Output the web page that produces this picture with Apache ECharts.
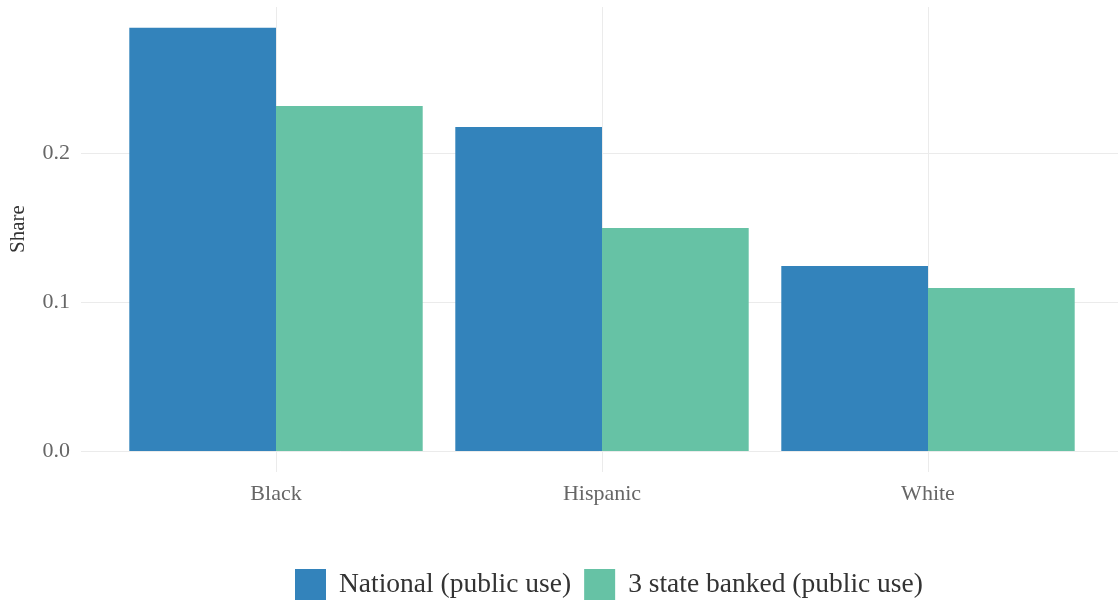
<!DOCTYPE html>
<html><head><meta charset="utf-8">
<script src="https://cdn.jsdelivr.net/npm/echarts@6/dist/echarts.min.js"></script>
<style>html,body{margin:0;padding:0;background:#fff}#c{width:1118px;height:605px}</style>
</head><body><div id="c"></div>
<script>
const categories = ['Black', 'Hispanic', 'White'];
const seriesNames = ['National (public use)', '3 state banked (public use)'];
const national = [0.284, 0.2175, 0.1242];
const threeState = [0.2315, 0.1497, 0.1094];
const yTicks = [0, 0.1, 0.2];

const FONT = '"Liberation Serif", "DejaVu Serif", serif';
const chart = echarts.init(document.getElementById('c'));
const yMax = 0.298;
chart.setOption({
  backgroundColor: '#ffffff',
  animation: false,
  textStyle: { fontFamily: FONT },
  legend: {
    bottom: 0, left: 290, itemWidth: 31, itemHeight: 31, itemGap: 13,
    icon: 'rect',
    textStyle: { fontFamily: FONT, fontSize: 27.5, color: '#333', padding: [0, 0, 0, 8] },
    data: seriesNames
  },
  grid: [
    { left: 113, width: 978, top: 7, bottom: 154 },
    { left: 80, right: 0, top: 7, bottom: 154 },
    { left: 276, width: 652, top: 7, bottom: 133 }
  ],
  xAxis: [
    { type: 'category', gridIndex: 0, data: categories, axisLine: { show: false }, axisTick: { show: false }, axisLabel: { show: false }, splitLine: { show: false } },
    { type: 'value', gridIndex: 1, min: 0, max: 1, show: false },
    { type: 'category', gridIndex: 2, data: categories, boundaryGap: false,
      axisLine: { show: false }, axisTick: { show: false },
      axisLabel: { color: '#666', fontSize: 22, fontFamily: FONT, margin: 11 },
      splitLine: { show: true, lineStyle: { color: '#ebebeb', width: 1 } } }
  ],
  yAxis: [
    { type: 'value', gridIndex: 0, min: 0, max: yMax, interval: 0.1, show: false, splitLine: { show: false } },
    { type: 'value', gridIndex: 1, min: 0, max: yMax, interval: 0.1,
      name: 'Share', nameLocation: 'middle', nameGap: 52, nameRotate: 90,
      nameTextStyle: { fontFamily: FONT, fontSize: 21, color: '#333' },
      axisLine: { show: false }, axisTick: { show: false },
      axisLabel: { color: '#666', fontSize: 22, fontFamily: FONT, margin: 11, showMaxLabel: false,
        formatter: v => v.toFixed(1) },
      splitLine: { show: true, showMaxLine: false, lineStyle: { color: '#ebebeb', width: 1 } } },
    { type: 'value', gridIndex: 2, min: 0, max: 1, show: false }
  ],
  series: [
    { name: seriesNames[0], type: 'bar', xAxisIndex: 0, yAxisIndex: 0, data: national,
      barGap: '0%', barCategoryGap: '10%', itemStyle: { color: '#3383bb' } },
    { name: seriesNames[1], type: 'bar', xAxisIndex: 0, yAxisIndex: 0, data: threeState,
      barGap: '0%', barCategoryGap: '10%', itemStyle: { color: '#66c2a5' } }
  ]
});
</script></body></html>
